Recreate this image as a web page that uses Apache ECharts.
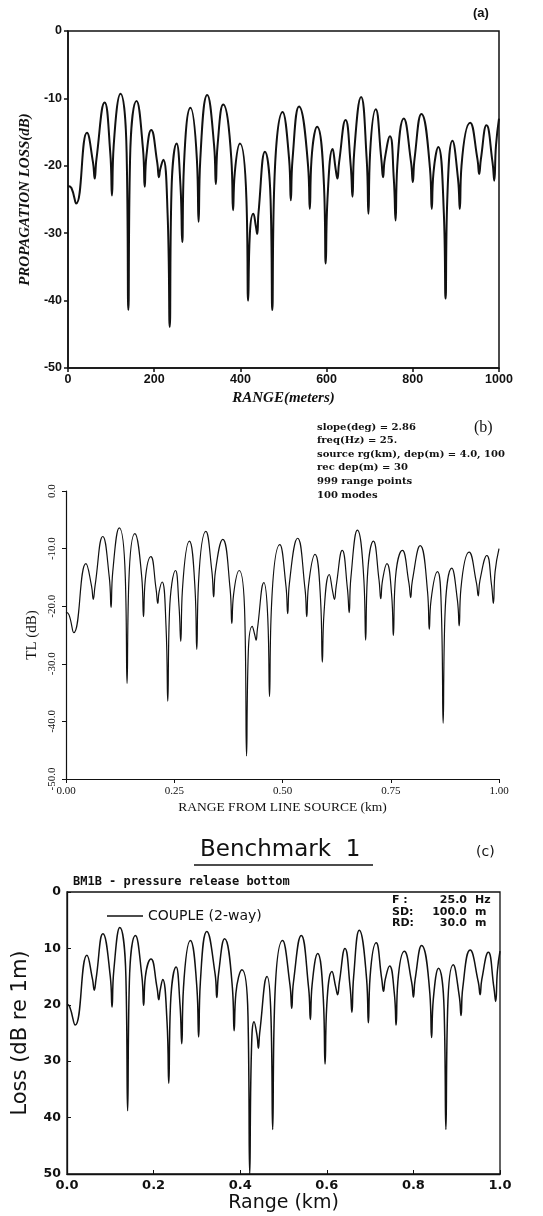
<!DOCTYPE html>
<html>
<head>
<meta charset="utf-8">
<script src="https://cdn.jsdelivr.net/npm/echarts@6/dist/echarts.min.js"></script>
<style>
html,body{margin:0;padding:0;background:#fff;}
#chart{width:543px;height:1216px;}
</style>
</head>
<body>
<div id="chart"></div>
<script>
// ---------- Panel (a): range in meters, propagation loss in dB ----------
var rangeA = [0,8,19,44,58,62,66,85,98,102,106,122,136,140,144,159,174,178,182,193,207,211,214,221,231,236,240,252,261,265,269,284,299,303,307,323,339,343,347,360,379,383,387,399,414,418,422,430,436,439,442,457,470,474,478,498,513,517,521,536,557,561,565,578,594,598,602,614,621,625,629,644,656,660,664,680,693,697,701,714,727,731,735,747,756,760,764,779,796,800,804,820,840,844,848,859,872,876,880,892,905,909,913,933,950,954,958,971,985,989,993,1000];
var lossA = [-23.0,-23.3,-25.6,-15.1,-19.5,-21.9,-19.0,-10.6,-18,-24.4,-17,-9.3,-18,-41.4,-19,-10.4,-17.5,-23.1,-18.5,-14.7,-19.5,-21.7,-20.5,-19.1,-27,-43.9,-24,-16.7,-23,-31.3,-20,-11.4,-19,-28.3,-19,-9.5,-17,-22.7,-17,-10.9,-19,-26.6,-21,-16.7,-25,-40.0,-30,-27.1,-29,-30.1,-27,-17.9,-25,-41.4,-24,-12.0,-19,-25.1,-19,-11.2,-20,-26.4,-19,-14.2,-23,-34.5,-25,-17.5,-20.5,-21.9,-19.5,-13.2,-20,-24.6,-18,-9.8,-19,-27.1,-18,-11.6,-19,-21.7,-19,-15.6,-22,-28.1,-20,-13.0,-19.5,-22.4,-19,-12.3,-20.5,-26.4,-21,-17.2,-27,-39.7,-25,-16.3,-22,-26.4,-20,-13.6,-19,-21.2,-19,-14.0,-19.5,-22.2,-17,-13.0];

// ---------- Panel (b): range in km, TL in dB ----------
var rangeB = [0,0.007,0.018,0.046,0.059,0.063,0.067,0.085,0.100,0.104,0.108,0.123,0.137,0.141,0.145,0.159,0.175,0.179,0.183,0.196,0.208,0.212,0.215,0.222,0.231,0.235,0.239,0.253,0.261,0.265,0.269,0.285,0.298,0.302,0.306,0.323,0.337,0.341,0.345,0.362,0.379,0.383,0.387,0.400,0.413,0.417,0.421,0.430,0.436,0.439,0.442,0.457,0.466,0.470,0.474,0.494,0.508,0.512,0.516,0.535,0.552,0.556,0.560,0.575,0.588,0.592,0.596,0.608,0.616,0.620,0.624,0.638,0.650,0.654,0.658,0.673,0.688,0.692,0.696,0.710,0.723,0.727,0.731,0.741,0.752,0.756,0.760,0.777,0.792,0.796,0.800,0.818,0.835,0.839,0.843,0.858,0.867,0.871,0.875,0.891,0.904,0.908,0.912,0.931,0.948,0.952,0.956,0.972,0.983,0.987,0.991,1.0];
var tlB = [-21.0,-21.5,-24.6,-12.6,-16.5,-18.8,-16.5,-7.9,-15,-20.2,-14,-6.4,-15,-33.4,-16,-7.4,-15,-21.8,-15.5,-11.4,-17,-19.5,-17.5,-15.8,-23.5,-36.5,-21,-13.8,-20,-26.1,-17,-8.7,-17,-27.5,-16,-7.0,-14,-18.4,-14,-8.4,-17,-23.0,-18,-13.8,-22,-46.0,-28,-23.5,-25,-25.9,-24,-15.9,-22,-35.7,-21,-9.3,-16.5,-21.3,-16,-8.2,-17,-21.8,-16.5,-11.0,-19,-29.7,-21,-14.5,-17.5,-18.8,-16.5,-10.3,-17,-21.1,-15,-6.8,-15.5,-25.9,-15,-8.7,-15.5,-18.7,-15.5,-12.6,-18,-25.1,-16,-10.3,-16,-18.5,-15.5,-9.5,-17.5,-24.0,-19,-14.0,-21,-40.3,-22,-13.4,-19,-23.4,-17,-10.6,-16,-18.2,-15.5,-11.2,-16.5,-19.5,-14,-10.0];
var infoB = ['slope(deg) = 2.86','freq(Hz) = 25.','source rg(km), dep(m) = 4.0, 100','rec dep(m) = 30','999 range points','100 modes'];

// ---------- Panel (c): range in km, loss in dB re 1m ----------
var rangeC = [0,0.006,0.019,0.046,0.059,0.063,0.067,0.083,0.100,0.104,0.108,0.122,0.136,0.140,0.144,0.158,0.173,0.177,0.181,0.194,0.208,0.212,0.215,0.221,0.231,0.235,0.239,0.252,0.261,0.265,0.269,0.285,0.300,0.304,0.308,0.323,0.342,0.346,0.350,0.364,0.382,0.386,0.390,0.404,0.418,0.422,0.426,0.432,0.439,0.442,0.445,0.462,0.471,0.475,0.479,0.498,0.515,0.519,0.523,0.541,0.558,0.562,0.566,0.579,0.592,0.596,0.600,0.612,0.621,0.625,0.629,0.642,0.654,0.658,0.662,0.675,0.692,0.696,0.700,0.714,0.727,0.731,0.735,0.745,0.756,0.760,0.764,0.779,0.796,0.800,0.804,0.819,0.838,0.842,0.846,0.858,0.871,0.875,0.879,0.892,0.906,0.910,0.914,0.931,0.950,0.954,0.958,0.973,0.986,0.990,0.994,1.0];
var lossC = [19.9,20.3,23.6,11.2,15.5,17.4,15.5,7.4,15,20.4,14,6.3,15,38.8,16,7.7,15,20.1,15,11.9,17,19.1,17.5,15.5,23,33.9,20,13.3,20,26.9,17,8.6,17,25.7,16,7.0,14.5,18.7,14.5,8.3,17,24.6,18,13.8,22,50,28,23.0,25.5,27.7,25,15.0,22,42.1,21,8.6,16.5,20.6,16,7.7,17,22.6,16.5,10.9,19,30.5,20,14.1,17,18.2,16,10.0,17,21.3,15,6.8,15.5,23.2,15,9.0,15.5,17.6,15.5,13.1,18,23.6,16,10.5,16,18.6,15.5,9.5,18,25.8,19,13.5,21,42.1,21,12.9,18.5,21.9,17,10.3,16,18.2,15.5,10.7,17,19.4,14,10.5];
var paramLabelsC = ['F :','SD:','RD:'];
var paramValuesC = ['25.0','100.0','30.0'];
var paramUnitsC = ['Hz','m','m'];

function pairs(xs, ys){ return xs.map(function(x,i){ return [x, ys[i]]; }); }

var chart = echarts.init(document.getElementById('chart'), null, {renderer:'canvas'});

var black = '#111';
var boldSans = 'Liberation Sans';
var serif = 'Liberation Serif';
var plot = 'DejaVu Sans';

var graphics = [];
graphics.push({type:'text', left: 473, top: 7, style:{text:'(a)', font:'bold 13px "Liberation Sans"', fill:black}});
graphics.push({type:'text', left: 474, top: 420, style:{text:'(b)', font:'16px "Liberation Serif"', fill:black}});
infoB.forEach(function(t,i){
  graphics.push({type:'text', left: 317, top: 422 + i*13.6, style:{text:t, font:'bold 10px "DejaVu Serif"', fill:black}});
});
graphics.push({type:'text', left: 200, top: 839, style:{text:'Benchmark  1', font:'23px "DejaVu Sans"', fill:black}});
graphics.push({type:'line', shape:{x1:194, y1:865, x2:373, y2:865}, style:{stroke:black, lineWidth:1.5}});
graphics.push({type:'text', left: 476, top: 845, style:{text:'(c)', font:'14px "DejaVu Sans"', fill:black}});
graphics.push({type:'text', left: 73, top: 876, style:{text:'BM1B - pressure release bottom', font:'bold 12px "DejaVu Sans Mono"', fill:black}});
paramLabelsC.forEach(function(t,i){
  graphics.push({type:'text', left: 392, top: 895 + i*11.5, style:{text:t, font:'bold 11px "DejaVu Sans"', fill:black}});
  graphics.push({type:'text', right: 543-467, top: 895 + i*11.5, style:{text:paramValuesC[i], font:'bold 11px "DejaVu Sans"', fill:black, align:'right'}});
  graphics.push({type:'text', left: 475, top: 895 + i*11.5, style:{text:paramUnitsC[i], font:'bold 11px "DejaVu Sans"', fill:black}});
});

var option = {
  backgroundColor: '#fff',
  animation: false,
  grid: [
    {left: 68, top: 31, width: 431, height: 337, show: true, borderColor: black, borderWidth: 1.5, backgroundColor:'transparent'},
    {left: 66, top: 491, width: 433, height: 288},
    {left: 67, top: 892, width: 433, height: 282, show: true, borderColor: black, borderWidth: 1.3, backgroundColor:'transparent'}
  ],
  legend: {
    data: ['COUPLE (2-way)'],
    left: 102, top: 904,
    icon: 'rect',
    itemWidth: 36, itemHeight: 1.5, itemGap: 10,
    textStyle: {fontFamily: plot, fontSize: 14, color: black}
  },
  xAxis: [
    {gridIndex:0, type:'value', min:0, max:1000, interval:200,
     name:'RANGE(meters)', nameLocation:'middle', nameGap:23,
     nameTextStyle:{fontFamily:serif, fontStyle:'italic', fontWeight:'bold', fontSize:15, color:black},
     axisLine:{onZero:false, lineStyle:{color:black, width:1.5}},
     axisTick:{show:true, inside:false, length:4, lineStyle:{color:black, width:1.5}},
     axisLabel:{color:black, fontFamily:boldSans, fontWeight:'bold', fontSize:12.5, margin:5, formatter:function(v){return String(v);}},
     splitLine:{show:false}},
    {gridIndex:1, type:'value', min:0, max:1, interval:0.25,
     name:'RANGE FROM LINE SOURCE (km)', nameLocation:'middle', nameGap:21,
     nameTextStyle:{fontFamily:serif, fontSize:13.5, color:black},
     axisLine:{onZero:false, lineStyle:{color:black, width:1.2}},
     axisTick:{show:true, inside:false, length:4, lineStyle:{color:black, width:1}},
     axisLabel:{color:black, fontFamily:serif, fontSize:11, margin:7, formatter:function(v){return v.toFixed(2);}},
     splitLine:{show:false}},
    {gridIndex:2, type:'value', min:0, max:1, interval:0.2,
     name:'Range (km)', nameLocation:'middle', nameGap:20,
     nameTextStyle:{fontFamily:plot, fontSize:19, color:black},
     axisLine:{onZero:false, lineStyle:{color:black, width:1.3}},
     axisTick:{show:true, inside:true, length:4, lineStyle:{color:black, width:1}},
     axisLabel:{color:black, fontFamily:plot, fontWeight:'bold', fontSize:13, margin:5, formatter:function(v){return v.toFixed(1);}},
     splitLine:{show:false}}
  ],
  yAxis: [
    {gridIndex:0, type:'value', min:-50, max:0, interval:10,
     name:'PROPAGATION LOSS(dB)', nameLocation:'middle', nameGap:33,
     nameTextStyle:{fontFamily:serif, fontStyle:'italic', fontWeight:'bold', fontSize:15, color:black},
     axisLine:{onZero:false, lineStyle:{color:black, width:1.5}},
     axisTick:{show:true, inside:false, length:4, lineStyle:{color:black, width:1.5}},
     axisLabel:{color:black, fontFamily:boldSans, fontWeight:'bold', fontSize:12.5, margin:6},
     splitLine:{show:false}},
    {gridIndex:1, type:'value', min:-50, max:0, interval:10,
     name:'TL (dB)', nameLocation:'middle', nameGap:21,
     nameTextStyle:{fontFamily:serif, fontSize:15, color:black},
     axisLine:{onZero:false, lineStyle:{color:black, width:1.2}},
     axisTick:{show:true, inside:false, length:4, lineStyle:{color:black, width:1}},
     axisLabel:{color:black, fontFamily:serif, fontSize:11, margin:8, rotate:90, formatter:function(v){return v.toFixed(1);}},
     splitLine:{show:false}},
    {gridIndex:2, type:'value', min:0, max:50, interval:10, inverse:true,
     name:'Loss (dB re 1m)', nameLocation:'middle', nameGap:36,
     nameTextStyle:{fontFamily:plot, fontSize:21, color:black},
     axisLine:{onZero:false, lineStyle:{color:black, width:1.3}},
     axisTick:{show:true, inside:true, length:4, lineStyle:{color:black, width:1}},
     axisLabel:{color:black, fontFamily:plot, fontWeight:'bold', fontSize:12.5, margin:6},
     splitLine:{show:false}}
  ],
  series: [
    {type:'line', xAxisIndex:0, yAxisIndex:0, data:pairs(rangeA, lossA), symbol:'none', smooth:0.5,
     lineStyle:{color:black, width:2}, clip:true},
    {type:'line', xAxisIndex:1, yAxisIndex:1, data:pairs(rangeB, tlB), symbol:'none', smooth:0.5,
     lineStyle:{color:black, width:1.2}, clip:true},
    {type:'line', name:'COUPLE (2-way)', xAxisIndex:2, yAxisIndex:2, data:pairs(rangeC, lossC), symbol:'none', smooth:0.5,
     lineStyle:{color:black, width:1.5}, itemStyle:{color:black}, clip:true}
  ],
  graphic: graphics
};
chart.setOption(option);
</script>
</body>
</html>
